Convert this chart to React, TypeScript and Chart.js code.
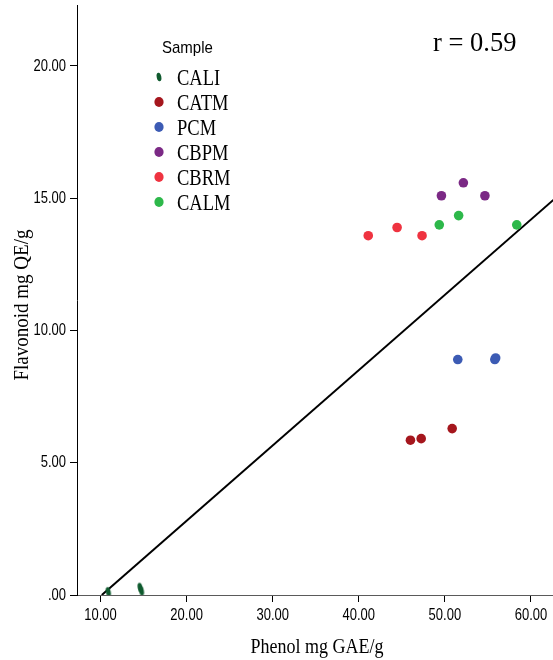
import React, { useEffect, useRef } from "react";
import { Chart, registerables } from "chart.js";

Chart.register(...registerables);

// ---------- data ----------
const seriesNames = ["CALI", "CATM", "PCM", "CBPM", "CBRM", "CALM"];

const caliX = [10.9, 14.6, 14.75];
const caliY = [0.12, 0.28, 0.16];
const catmX = [46.0, 47.25, 50.85];
const catmY = [5.85, 5.91, 6.29];
const pcmX = [51.5, 55.8, 55.9];
const pcmY = [8.9, 8.9, 8.96];
const cbpmX = [49.6, 52.15, 54.65];
const cbpmY = [15.09, 15.58, 15.09];
const cbrmX = [41.1, 44.45, 47.35];
const cbrmY = [13.58, 13.89, 13.58];
const calmX = [49.35, 51.6, 58.35];
const calmY = [13.99, 14.34, 13.99];

const fitX = [10.15, 62.6];
const fitY = [0, 14.93];

const xTickValues = [10, 20, 30, 40, 50, 60];
const yTickValues = [0, 5, 10, 15, 20];
const xRange = [7.27, 62.56];
const yRange = [0, 22.3];

const xTitle = "Phenol mg GAE/g";
const yTitle = "Flavonoid mg QE/g";
const legendTitle = "Sample";
const annotationText = "r = 0.59";

// ---------- styles ----------
const seriesColors = ["#0f5a2e", "#a5161d", "#3c5bb4", "#7b2985", "#ef3340", "#2db84a"];
const ellipseSeries = "CALI";
const SERIF = '"Liberation Serif", "Times New Roman", serif';
const SANS = '"Liberation Sans", Arial, sans-serif';

const seriesX = [caliX, catmX, pcmX, cbpmX, cbrmX, calmX];
const seriesY = [caliY, catmY, pcmY, cbpmY, cbrmY, calmY];

function fmt(v: number): string {
  return v === 0 ? ".00" : v.toFixed(2);
}

function stretchText(
  ctx: CanvasRenderingContext2D,
  text: string,
  x: number,
  y: number,
  font: string,
  align: CanvasTextAlign,
  sy: number,
  baseline: CanvasTextBaseline = "alphabetic"
) {
  ctx.save();
  ctx.font = font;
  ctx.textAlign = align;
  ctx.textBaseline = baseline;
  ctx.fillStyle = "#000";
  ctx.translate(x, y);
  ctx.scale(1, sy);
  ctx.fillText(text, 0, 0);
  ctx.restore();
}

function drawMarker(ctx: CanvasRenderingContext2D, name: string, color: string, x: number, y: number) {
  ctx.save();
  ctx.fillStyle = color;
  ctx.beginPath();
  if (name === ellipseSeries) {
    ctx.ellipse(x, y, 2.3, 4.3, -0.2, 0, Math.PI * 2);
  } else {
    ctx.ellipse(x, y, 4.6, 5, 0, 0, Math.PI * 2);
  }
  ctx.fill();
  ctx.restore();
}

const textPlugin = {
  id: "customText",
  afterDraw(chart: any) {
    const ctx: CanvasRenderingContext2D = chart.ctx;
    const xs = chart.scales.x;
    const ys = chart.scales.y;
    const area = chart.chartArea;

    // tick labels
    xs.ticks.forEach((t: any) => {
      const px = xs.getPixelForValue(t.value);
      stretchText(ctx, fmt(t.value), px, 620, `13px ${SANS}`, "center", 1.3);
    });
    ys.ticks.forEach((t: any) => {
      const py = ys.getPixelForValue(t.value);
      stretchText(ctx, fmt(t.value), 66, py, `13px ${SANS}`, "right", 1.3, "middle");
    });

    // axis titles
    stretchText(ctx, xTitle, (area.left + area.right) / 2 + 2, 653, `18px ${SERIF}`, "center", 1.2);
    ctx.save();
    ctx.translate(22, (area.top + area.bottom) / 2 + 5);
    ctx.rotate(-Math.PI / 2);
    ctx.font = `19px ${SERIF}`;
    ctx.textAlign = "center";
    ctx.textBaseline = "middle";
    ctx.fillStyle = "#000";
    ctx.scale(1, 1.15);
    ctx.fillText(yTitle, 0, 0);
    ctx.restore();

    // legend
    stretchText(ctx, legendTitle, 162, 53, `15px ${SANS}`, "left", 1.08);
    const ds = chart.data.datasets.filter((d: any) => !d.isFit);
    ds.forEach((d: any, i: number) => {
      const y = 77 + 25 * i;
      drawMarker(ctx, d.label, d.backgroundColor, 159, y);
      stretchText(ctx, d.label, 177, y + 8, `18.5px ${SERIF}`, "left", 1.25);
    });

    // annotation
    stretchText(ctx, annotationText, 433, 51, `26.5px ${SERIF}`, "left", 1.0);
  },
};

export default function App() {
  const canvasRef = useRef<HTMLCanvasElement | null>(null);

  useEffect(() => {
    const canvas = canvasRef.current;
    if (!canvas) return;

    const ell = document.createElement("canvas");
    ell.width = 8;
    ell.height = 12;
    const ectx = ell.getContext("2d")!;
    ectx.fillStyle = seriesColors[0];
    ectx.beginPath();
    ectx.ellipse(4, 6, 2.4, 4.8, -0.2, 0, Math.PI * 2);
    ectx.fill();

    const datasets: any[] = seriesNames.map((name, i) => ({
      label: name,
      data: seriesX[i].map((x, j) => ({ x, y: seriesY[i][j] })),
      backgroundColor: seriesColors[i],
      borderColor: seriesColors[i],
      pointRadius: 4.8,
      pointHoverRadius: 4.8,
      pointBorderWidth: 0,
      pointStyle: name === ellipseSeries ? ell : "circle",
      showLine: false,
    }));
    datasets.push({
      label: "fit",
      isFit: true,
      data: fitX.map((x, j) => ({ x, y: fitY[j] })),
      showLine: true,
      borderColor: "#000",
      backgroundColor: "#000",
      borderWidth: 2,
      pointRadius: 0,
      pointHoverRadius: 0,
    });

    const chart = new Chart(canvas, {
      type: "scatter",
      data: { datasets },
      options: {
        responsive: false,
        animation: false,
        devicePixelRatio: 1,
        layout: { autoPadding: false, padding: { top: 5, right: 0, left: 0, bottom: 0 } },
        plugins: {
          legend: { display: false },
          tooltip: { enabled: false },
        },
        scales: {
          x: {
            type: "linear",
            min: xRange[0],
            max: xRange[1],
            afterBuildTicks: (s: any) => {
              s.ticks = xTickValues.map((v) => ({ value: v }));
            },
            afterFit: (s: any) => {
              s.height = 65;
            },
            ticks: { display: false },
            grid: {
              display: true,
              drawOnChartArea: false,
              drawTicks: true,
              tickLength: 7,
              color: "#000",
              lineWidth: 1,
            },
            border: { display: true, color: "#5a5a5a", width: 1 },
          },
          y: {
            type: "linear",
            min: yRange[0],
            max: yRange[1],
            afterBuildTicks: (s: any) => {
              s.ticks = yTickValues.map((v) => ({ value: v }));
            },
            afterFit: (s: any) => {
              s.width = 77;
            },
            ticks: { display: false },
            grid: {
              display: true,
              drawOnChartArea: false,
              drawTicks: true,
              tickLength: 7,
              color: "#000",
              lineWidth: 1,
            },
            border: { display: true, color: "#000", width: 1 },
          },
        },
      } as any,
      plugins: [textPlugin],
    });

    return () => chart.destroy();
  }, []);

  return (
    <div style={{ position: "absolute", left: 0, top: 0, width: 553, height: 660, background: "#fff" }}>
      <canvas ref={canvasRef} width={553} height={660} style={{ display: "block", width: 553, height: 660 }} />
    </div>
  );
}
